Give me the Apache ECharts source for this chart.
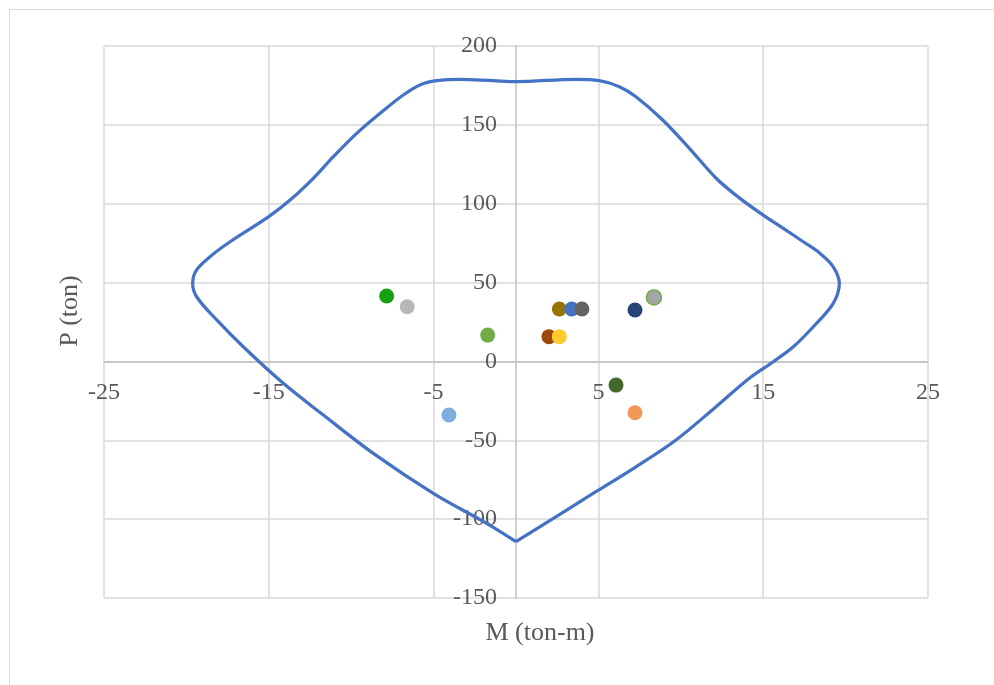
<!DOCTYPE html>
<html><head><meta charset="utf-8">
<script src="https://cdn.jsdelivr.net/npm/echarts@6/dist/echarts.min.js"></script>
<style>html,body{margin:0;padding:0;background:#fff}#c{width:994px;height:685px}</style>
</head><body><div id="c"></div>
<script>
// Interaction diagram (M, P)
const curveM = [0, 4.85, 7.28, 9.71, 12.14, 14.16, 15.61, 16.83, 18.04, 19.25, 19.62, 19.25, 18.45, 17.43, 16.22, 15.0, 13.59, 12.16, 10.52, 8.90, 7.28, 6.27, 5.06, 3.64, 0, -1.38, -3.40, -4.81, -5.83, -6.84, -8.25, -9.67, -11.08, -12.30, -13.71, -15.0, -17.35, -18.57, -19.38, -19.62, -19.38, -18.16, -16.55, -14.12, -11.69, -8.66, -5.02, -1.78, 0];
const curveP = [-114.3, -82.6, -66.8, -49.8, -28.7, -10.7, -0.2, 9.3, 22.0, 36.8, 49.5, 60.0, 68.5, 75.9, 84.4, 92.8, 103.4, 116.0, 135.1, 153.1, 167.8, 174.2, 178.0, 178.9, 177.4, 178.0, 178.9, 178.0, 175.3, 168.9, 157.3, 144.6, 129.8, 116.1, 102.3, 91.8, 75.9, 66.4, 58.0, 49.5, 41.0, 26.3, 9.3, -13.9, -34.0, -58.3, -83.6, -102.7, -114.3];

// Load points
const pointM = [-7.85, -6.6, -1.72, -4.07, 2.0, 2.63, 2.63, 3.38, 4.0, 7.22, 8.37, 6.07, 7.22];
const pointP = [41.5, 34.7, 16.7, -34.0, 15.7, 15.7, 33.2, 33.2, 33.2, 32.6, 40.6, -15.0, -32.5];
const pointColors = ['#12a112', '#b7b7b7', '#70ad47', '#7cafdd', '#9e480e', '#ffca30', '#997300', '#4472c4', '#636363', '#264478', '#a5a5a5', '#43682b', '#f1975a'];
const pointBorders = [null, null, null, null, null, null, null, null, null, null, '#70ad47', null, null];

const xTickValues = [-25, -15, -5, 5, 15, 25];
const xAxisTitle = 'M (ton-m)';
const yAxisTitle = 'P (ton)';

const FONT = "'Liberation Serif', 'Times New Roman', serif";
const GRID = {left: 104, right: 66, top: 46, bottom: 87};
const chart = echarts.init(document.getElementById('c'), null, {renderer: 'canvas'});

chart.setOption({
  animation: false,
  backgroundColor: '#ffffff',
  grid: Object.assign({containLabel: false}, GRID),
  xAxis: {
    type: 'value', min: -25, max: 25, interval: 10,
    axisLine: {onZero: false, lineStyle: {color: '#bfbfbf', width: 1.5}},
    axisTick: {show: false, customValues: xTickValues},
    axisLabel: {customValues: xTickValues, color: '#595959', fontFamily: FONT, fontSize: 24, margin: 19},
    splitLine: {show: true, lineStyle: {color: '#d9d9d9', width: 1.5}}
  },
  yAxis: {
    type: 'value', min: -150, max: 200, interval: 50,
    axisLine: {show: true, onZero: false, lineStyle: {color: '#bfbfbf', width: 1.5}},
    axisTick: {show: false},
    axisLabel: {color: '#595959', fontFamily: FONT, fontSize: 24, margin: 19},
    splitLine: {show: true, lineStyle: {color: '#d9d9d9', width: 1.5}}
  },
  graphic: [
    {type: 'rect', silent: true, z: -10, shape: {x: 9.5, y: 9.5, width: 1100, height: 800},
     style: {fill: 'none', stroke: '#d9d9d9', lineWidth: 1}},
    {type: 'text', x: 540, y: 633, silent: true,
     style: {text: xAxisTitle, font: '26px ' + FONT, fill: '#595959', textAlign: 'center', textVerticalAlign: 'middle'}},
    {type: 'text', x: 70, y: 311, rotation: Math.PI / 2, silent: true,
     style: {text: yAxisTitle, font: '26px ' + FONT, fill: '#595959', textAlign: 'center', textVerticalAlign: 'middle'}}
  ],
  series: [
    {
      type: 'line', smooth: 0.35, showSymbol: false, z: 3,
      lineStyle: {color: '#4472c4', width: 3.25},
      data: curveM.map((m, i) => [m, curveP[i]])
    },
    {
      type: 'scatter', symbol: 'circle', symbolSize: 15, z: 4,
      data: pointM.map((m, i) => ({
        value: [m, pointP[i]],
        itemStyle: pointBorders[i]
          ? {color: pointColors[i], borderColor: pointBorders[i], borderWidth: 1.5, opacity: 1}
          : {color: pointColors[i], opacity: 1}
      }))
    }
  ]
});

// Move both axes (line + labels) to cross at the origin, using the chart's own scales
const origin = chart.convertToPixel({gridIndex: 0}, [0, 0]);
const gridBottomY = 685 - GRID.bottom;
chart.setOption({
  xAxis: {offset: -(gridBottomY - origin[1])},
  yAxis: {offset: -(origin[0] - GRID.left)}
});
</script>
</body></html>
